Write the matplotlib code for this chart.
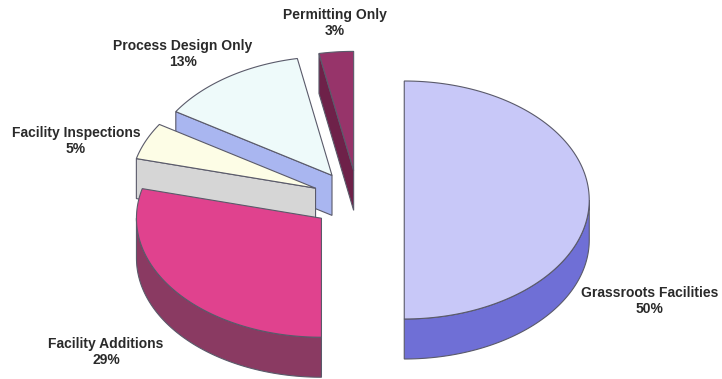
import numpy as np
import matplotlib
matplotlib.use("Agg")
import matplotlib.pyplot as plt
from matplotlib.patches import Polygon

# ---- data ----
categories = ["Grassroots Facilities", "Facility Additions", "Facility Inspections",
              "Process Design Only", "Permitting Only"]
values = [50, 29, 5, 13, 3]
top_colors = ["#c8c8f8", "#e0428e", "#fdfde6", "#eefafa", "#97346a"]
side_colors = ["#6f6fd6", "#8a3a62", "#d6d6d6", "#a9b6f0", "#6e2149"]
label_pos = [(650, 301), (106, 352), (76, 141), (183, 54), (335, 23)]

# ---- geometry (pixel space) ----
W, H = 722, 379
cx0, cy0 = 358, 200
rx, ry = 185, 119
depth = 40
explode = 0.25

fig = plt.figure(figsize=(W / 100, H / 100), dpi=100)
ax = fig.add_axes([0, 0, 1, 1])
ax.set_xlim(0, W)
ax.set_ylim(H, 0)
ax.axis("off")

def pt(cx, cy, t, dz=0):
    r = np.radians(t)
    return (cx + rx * np.cos(r), cy - ry * np.sin(r) + dz)

total = float(sum(values))
wedges = []
cum = 0.0
for i, v in enumerate(values):
    a1 = 90 - cum / total * 360
    a0 = a1 - v / total * 360
    cum += v
    mid = np.radians((a0 + a1) / 2)
    cx = cx0 + explode * rx * np.cos(mid)
    cy = cy0 - explode * ry * np.sin(mid)
    wedges.append((i, a0, a1, cx, cy))

# painter order: back to front by centre y
order = sorted(wedges, key=lambda w: w[4])
ec = "#5a5a6a"
lw = 0.8
for i, a0, a1, cx, cy in order:
    # radial faces
    for a, nrm in ((a0, a0 - 90), (a1, a1 + 90)):
        if np.sin(np.radians(nrm)) < -1e-6:
            p = pt(cx, cy, a)
            poly = [(cx, cy), p, (p[0], p[1] + depth), (cx, cy + depth)]
            ax.add_patch(Polygon(poly, closed=True, fc=side_colors[i], ec=ec, lw=lw))
    # outer wall
    for k in (-1, 0, 1):
        lo = max(a0, -180 + 360 * k)
        hi = min(a1, 360 * k)
        if hi - lo > 0.1:
            ts = np.linspace(lo, hi, 80)
            topc = [pt(cx, cy, t) for t in ts]
            botc = [pt(cx, cy, t, depth) for t in ts[::-1]]
            ax.add_patch(Polygon(topc + botc, closed=True, fc=side_colors[i], ec=ec, lw=lw))
    # top face
    ts = np.linspace(a0, a1, 120)
    poly = [(cx, cy)] + [pt(cx, cy, t) for t in ts]
    ax.add_patch(Polygon(poly, closed=True, fc=top_colors[i], ec=ec, lw=lw))

for i, (lx, ly) in enumerate(label_pos):
    ax.text(lx, ly, f"{categories[i]}\n{values[i]}%", ha="center", va="center",
            fontsize=10, fontweight="bold", family="Liberation Sans",
            color="#2a2a2a", linespacing=1.2)

fig.savefig("out.png", dpi=100, facecolor="white")
